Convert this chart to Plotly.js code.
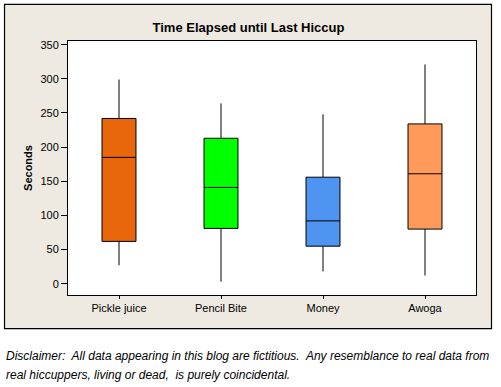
<!DOCTYPE html>
<html>
<head>
<meta charset="utf-8">
<script src="https://cdn.plot.ly/plotly-3.0.1.min.js"></script>
<style>
html,body{margin:0;padding:0;background:#fff;}
#chart{width:501px;height:387px;}
</style>
</head>
<body>
<div id="chart"></div>
<script>
const categories = ["Pickle juice", "Pencil Bite", "Money", "Awoga"];
const lowerWhisker = [27, 3, 18, 12];
const q1 = [62, 81, 55, 80];
const median = [185, 141, 92, 161];
const q3 = [242, 213, 156, 234];
const upperWhisker = [299, 264, 248, 321];
const colors = ["#E8670A", "#00FF00", "#4F94F0", "#FF9A5A"];
const yTicks = [0, 50, 100, 150, 200, 250, 300, 350];

const traces = categories.map((c, i) => ({
  type: "box",
  x: [c],
  q1: [q1[i]],
  median: [median[i]],
  q3: [q3[i]],
  lowerfence: [lowerWhisker[i]],
  upperfence: [upperWhisker[i]],
  fillcolor: colors[i],
  line: {color: "#000000", width: 1},
  whiskerwidth: 0,
  boxpoints: false,
  width: 0.333,
  hoverinfo: "skip",
  showlegend: false
}));

const font = "'Liberation Sans', Arial, sans-serif";

const layout = {
  width: 501,
  height: 387,
  margin: {l: 68, r: 25, t: 41, b: 92},
  paper_bgcolor: "#FFFFFF",
  plot_bgcolor: "rgba(0,0,0,0)",
  boxmode: "overlay",
  showlegend: false,
  font: {family: font, size: 11, color: "#000000"},
  title: {
    text: "<b>Time Elapsed until Last Hiccup</b>",
    font: {family: font, size: 13, color: "#000000"},
    x: 0.496, xref: "container", xanchor: "center",
    y: 0.930, yref: "container", yanchor: "middle"
  },
  xaxis: {
    type: "category",
    categoryorder: "array",
    categoryarray: categories,
    range: [-0.5, 3.5],
    showline: true, mirror: true, linecolor: "#000000", linewidth: 1,
    ticks: "outside", ticklen: 3, tickcolor: "#000000",
    showgrid: false, zeroline: false,
    tickfont: {family: font, size: 11, color: "#000000"}
  },
  yaxis: {
    range: [-16.5, 355.4],
    tickvals: yTicks,
    ticktext: yTicks.map(String),
    showline: true, mirror: true, linecolor: "#000000", linewidth: 1,
    ticks: "outside", ticklen: 6, tickcolor: "#000000",
    showgrid: false, zeroline: false,
    tickfont: {family: font, size: 11, color: "#000000"},
    title: {text: "<b>Seconds</b>", font: {family: font, size: 11, color: "#000000"}, standoff: 5}
  },
  shapes: [
    {type: "rect", xref: "paper", yref: "paper", layer: "below",
     x0: -0.1556, x1: 1.038, y0: -0.1327, y1: 1.144,
     fillcolor: "#EEEAE1", line: {color: "#000000", width: 1.2}},
    {type: "rect", xref: "paper", yref: "paper", layer: "below",
     x0: 0, x1: 1, y0: 0, y1: 1,
     fillcolor: "#FFFFFF", line: {width: 0}}
  ],
  annotations: [
    {xref: "paper", yref: "paper", x: -0.157, y: -0.24, xanchor: "left", yanchor: "middle",
     showarrow: false, align: "left",
     font: {family: font, size: 12, color: "#000000"},
     text: "<i>Disclaimer:&nbsp; All data appearing in this blog are fictitious.&nbsp; Any resemblance to real data from</i>"},
    {xref: "paper", yref: "paper", x: -0.157, y: -0.313, xanchor: "left", yanchor: "middle",
     showarrow: false, align: "left",
     font: {family: font, size: 12, color: "#000000"},
     text: "<i>real hiccuppers, living or dead,&nbsp; is purely coincidental.</i>"}
  ]
};

Plotly.newPlot("chart", traces, layout, {displayModeBar: false, staticPlot: true});
</script>
</body>
</html>
